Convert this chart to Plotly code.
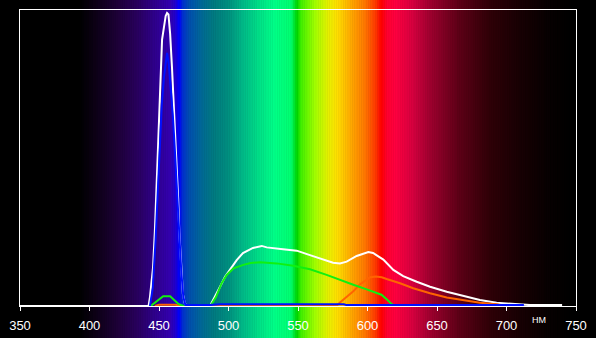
import plotly.graph_objects as go

# ---------------- data ----------------
white_nm = [350, 442.5, 443.5, 445.7, 447.0, 447.8, 449.0, 449.8, 450.7, 451.5, 452.2, 454.8,
            455.8, 456.8, 458.0, 459.3, 460.5, 461.6, 462.8, 463.8, 464.6, 465.9, 467.2,
            468.5, 470.0, 486.7, 490.3, 493.9, 497.5, 502.3, 505.9, 510.4, 517.6, 523.9,
            527.5, 539.2, 549.1, 558.6, 568.0, 575.2, 580.2, 585.0, 592.2, 600.6, 604.0,
            611.4, 618.6, 625.7, 635.4, 645.0, 657.0, 668.9, 680.9, 692.9, 702.5, 711.9,
            716.9, 740.0]
white_val = [0, 0, 0.03, 0.13, 0.25, 0.36, 0.47, 0.58, 0.70, 0.81, 0.90, 0.98,
             0.99, 0.985, 0.92, 0.81, 0.70, 0.58, 0.47, 0.36, 0.25, 0.13, 0.04,
             0.01, 0, 0, 0.031, 0.065, 0.099, 0.133, 0.155, 0.179, 0.196, 0.203,
             0.198, 0.192, 0.187, 0.172, 0.158, 0.146, 0.144, 0.150, 0.169, 0.182, 0.179,
             0.157, 0.122, 0.101, 0.082, 0.065, 0.048, 0.034, 0.020, 0.011, 0.007, 0.004,
             0.003, 0.003]

blue_nm = [443.5, 445.5, 447.5, 449.0, 450.5, 452.0, 453.5, 455.0, 455.8, 457.0, 458.5,
           460.0, 461.5, 463.0, 464.5, 466.0, 467.5, 469.0, 486.0, 494.0, 583.0, 585.0, 712.5]
blue_val = [0, 0.06, 0.22, 0.38, 0.55, 0.68, 0.77, 0.83, 0.855, 0.82, 0.74,
            0.64, 0.52, 0.38, 0.24, 0.12, 0.03, 0.003, 0.003, 0.006, 0.006, 0.003, 0.003]

green_nm = [444.0, 448.5, 453.0, 458.0, 461.0, 464.0, 467.5, 487.0, 491.0, 495.1, 498.7,
            503.5, 510.7, 516.0, 522.7, 534.7, 546.6, 558.6, 570.6, 580.0, 589.8, 599.4,
            606.6, 610.0, 614.0, 617.5, 620.0, 627.0]
green_val = [0, 0.018, 0.033, 0.033, 0.02, 0.007, 0, 0, 0.03, 0.077, 0.105,
             0.127, 0.139, 0.145, 0.148, 0.144, 0.136, 0.124, 0.105, 0.09, 0.072, 0.056,
             0.045, 0.038, 0.022, 0.006, 0.001, 0]

red_nm = [447.0, 450.0, 462.0, 465.0, 486.0, 578.0, 580.2, 585.0, 589.8, 594.6, 599.4,
          602.0, 606.0, 610.2, 613.8, 617.4, 623.4, 632.9, 645.0, 657.0, 668.9, 680.9,
          692.9, 700.0]
red_val = [0, 0.004, 0.004, 0, 0, 0.002, 0.012, 0.03, 0.05, 0.073, 0.09,
           0.097, 0.1, 0.097, 0.091, 0.086, 0.077, 0.06, 0.043, 0.029, 0.02, 0.011,
           0.006, 0]

tick_vals = [350, 400, 450, 500, 550, 600, 650, 700, 750]
unit_label = "НМ"

# ---------------- background spectrum gradient (style) ----------------
grad_stops = [
    (350, "#000000"), (392, "#000000"), (405, "#0e0018"), (420, "#1e0038"),
    (435, "#2a0060"), (448, "#300090"), (458, "#3400b0"), (462, "#2000d0"),
    (464.5, "#0000ff"), (467, "#0030d0"), (472, "#0050b0"), (480, "#006898"),
    (490, "#007c80"), (500, "#009080"), (510, "#00b888"), (522, "#00e088"),
    (533, "#00ff88"), (545, "#00ff70"), (548, "#00e020"), (549.5, "#00d800"),
    (552, "#40f000"), (562, "#a0ff00"), (572, "#e8f000"), (578, "#ffe000"),
    (587, "#ffb000"), (598, "#ff7800"), (606, "#ff3800"), (610, "#ff0000"),
    (614, "#ff0030"), (620, "#ff0040"), (632, "#d80040"), (645, "#a00030"),
    (665, "#600018"), (688, "#300008"), (710, "#180004"), (730, "#080002"),
    (750, "#000000"),
]


def hex2rgb(h):
    h = h.lstrip("#")
    return tuple(int(h[i:i + 2], 16) for i in (0, 2, 4))


def grad_color(w):
    for (w0, c0), (w1, c1) in zip(grad_stops[:-1], grad_stops[1:]):
        if w0 <= w <= w1:
            t = 0 if w1 == w0 else (w - w0) / (w1 - w0)
            a, b = hex2rgb(c0), hex2rgb(c1)
            r = [round(a[i] + (b[i] - a[i]) * t) for i in range(3)]
            return "rgb(%d,%d,%d)" % tuple(r)
    return "rgb(0,0,0)"


shapes = []
step = 0.5
w = 350.0
while w < 750:
    shapes.append(dict(type="rect", xref="x", yref="paper", x0=w, x1=min(w + step * 1.8, 750),
                       y0=-0.2, y1=1.1, fillcolor=grad_color(w + step / 2),
                       line=dict(width=0), layer="below"))
    w += step

fig = go.Figure()
fig.add_trace(go.Scatter(x=white_nm, y=white_val, mode="lines",
                         line=dict(color="#ffffff", width=2), cliponaxis=False))
fig.add_trace(go.Scatter(x=red_nm, y=red_val, mode="lines",
                         line=dict(color="#ff6400", width=2), cliponaxis=False))
fig.add_trace(go.Scatter(x=green_nm, y=green_val, mode="lines",
                         line=dict(color="#10f010", width=2), cliponaxis=False))
fig.add_trace(go.Scatter(x=blue_nm, y=blue_val, mode="lines",
                         line=dict(color="#0010ff", width=2), cliponaxis=False))

fig.update_layout(
    width=596, height=338,
    margin=dict(l=20, r=20, t=10, b=32),
    paper_bgcolor="#000000", plot_bgcolor="#000000",
    showlegend=False,
    shapes=shapes,
    font=dict(family="Liberation Sans, Arial, sans-serif", color="#ffffff", size=13),
    xaxis=dict(range=[350, 750], tickvals=tick_vals, ticks="outside", ticklen=4,
               tickwidth=1, tickcolor="#ffffff", showgrid=False, zeroline=False,
               showline=True, linecolor="#ffffff", linewidth=1, mirror=True,
               ticklabelstandoff=3, automargin=False,
               tickfont=dict(size=13, color="#ffffff")),
    yaxis=dict(range=[0, 1], showticklabels=False, ticks="", showgrid=False,
               zeroline=False, showline=True, linecolor="#ffffff", linewidth=1,
               mirror=True, automargin=False),
    annotations=[dict(x=723.4, y=-0.046, xref="x", yref="paper", text=unit_label,
                      showarrow=False, font=dict(size=9, color="#ffffff"),
                      xanchor="center", yanchor="middle")],
)

fig.write_html("out.html")
